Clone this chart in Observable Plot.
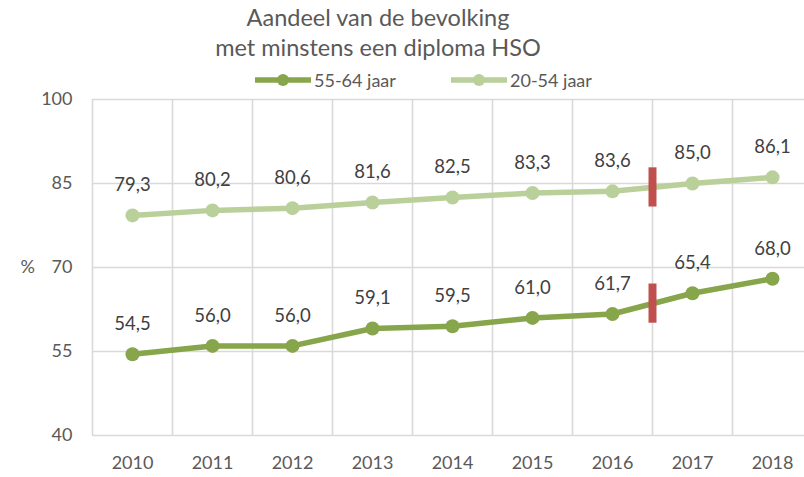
<!DOCTYPE html>
<html><head><meta charset="utf-8">
<script src="https://cdn.jsdelivr.net/npm/d3@7"></script>
<script src="https://cdn.jsdelivr.net/npm/@observablehq/plot@0.6"></script>
<style>
body{margin:0;background:#fff;font-family:Lato, sans-serif;}
#wrap{position:relative;width:804px;height:477px;overflow:hidden;background:#fff}
#title{position:absolute;left:0;top:2px;width:756px;text-align:center;font-size:23.5px;line-height:30px;color:#595959}
.leg{position:absolute;top:70px;height:20px;display:flex;align-items:center;font-size:18px;color:#595959;white-space:nowrap}
.leg svg{margin-right:3px}
</style></head><body>
<div id="wrap">
<div id="chart"></div>
<div id="title">Aandeel van de bevolking<br>met minstens een diploma HSO</div>
<div id="legend"></div>
</div>
<script>
const years = [2010, 2011, 2012, 2013, 2014, 2015, 2016, 2017, 2018];
const series = ["55-64 jaar", "20-54 jaar"];
const colors = ["#87a54a", "#b9d09a"];
const valuesOld = [54.5, 56.0, 56.0, 59.1, 59.5, 61.0, 61.7, 65.4, 68.0];
const valuesYoung = [79.3, 80.2, 80.6, 81.6, 82.5, 83.3, 83.6, 85.0, 86.1];
const yTicks = [40, 55, 70, 85, 100];
const breakAfter = 2016;

const data = years.flatMap((yr, i) => [
  {year: yr, value: valuesOld[i], s: series[0]},
  {year: yr, value: valuesYoung[i], s: series[1]}
]);
const bounds = years.map(y => y - 0.5);
const bi = years.indexOf(breakAfter);
const breaks = [valuesOld, valuesYoung].map(v => {
  const m = (v[bi] + v[bi + 1]) / 2;
  return {y1: m - 3.5, y2: m + 3.5};
});

const chart = Plot.plot({
  width: 804, height: 477,
  marginTop: 99, marginBottom: 42, marginLeft: 92, marginRight: 0,
  style: {fontFamily: "Lato, sans-serif", fontSize: "18px", color: "#595959", background: "#fff"},
  x: {type: "linear", domain: [2009.5, 2018.5], range: [92, 812], axis: null},
  y: {domain: [40, 100], axis: null},
  color: {domain: series, range: colors},
  marks: [
    Plot.ruleY(yTicks, {stroke: "#d9d9d9", strokeWidth: 1.6}),
    Plot.ruleX(bounds, {stroke: "#d9d9d9", strokeWidth: 1.6}),
    Plot.axisY(yTicks, {tickSize: 0, tickPadding: 20, fontSize: 18, fill: "#595959", label: null}),
    Plot.axisX(years, {tickSize: 0, tickPadding: 21, fontSize: 18, fill: "#595959", tickFormat: d => String(d), label: null}),
    Plot.line(data, {x: "year", y: "value", z: "s", stroke: "s", strokeWidth: 5.5, strokeLinejoin: "round"}),
    Plot.dot(data, {x: "year", y: "value", fill: "s", r: 7}),
    Plot.text(data, {x: "year", y: "value", text: d => d.value.toFixed(1).replace(".", ","), dy: -30, fill: "#404040", fontSize: 18.5}),
    Plot.ruleX(breaks, {x: breakAfter + 0.5, y1: "y1", y2: "y2", stroke: "#c0504d", strokeWidth: 8}),
    Plot.text(["%"], {frameAnchor: "left", y: 70, dx: -72, fill: "#595959", fontSize: 18})
  ]
});
document.getElementById("chart").appendChild(chart);

const legend = document.getElementById("legend");
const legX = [255, 451];
series.forEach((s, i) => {
  const item = document.createElement("div");
  item.className = "leg";
  item.style.left = legX[i] + "px";
  item.innerHTML = `<svg width="56" height="16"><line x1="0" y1="8" x2="56" y2="8" stroke="${colors[i]}" stroke-width="5.5"/><circle cx="28" cy="8" r="6" fill="${colors[i]}"/></svg><span>${s}</span>`;
  legend.appendChild(item);
});
</script>
</body></html>
